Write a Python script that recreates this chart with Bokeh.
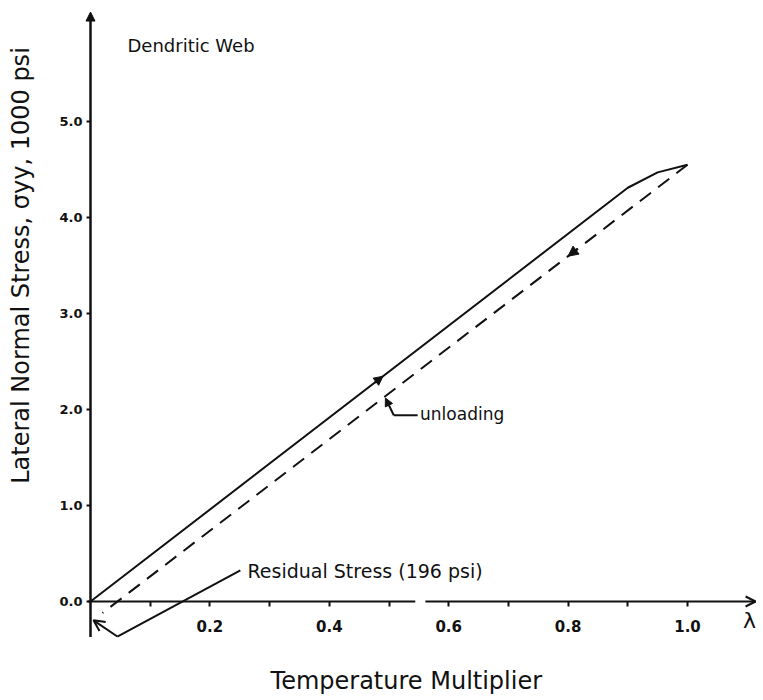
import numpy as np
from bokeh.plotting import figure
from bokeh.models import (Range1d, FixedTicker, Arrow, NormalHead, OpenHead,
                          Label, PrintfTickFormatter)
from bokeh.embed import file_html
from bokeh.resources import INLINE

# ---- data ----
load_x = [0.0, 0.90, 0.95, 1.0]
load_y = [0.0, 4.31, 4.47, 4.55]
unload_x = [1.0, 0.02]
unload_y = [4.55, -0.12]
residual_x = 0.0
residual_y = -0.196

x_ticks = [0.2, 0.4, 0.6, 0.8, 1.0]
x_minor = [0.1, 0.3, 0.5, 0.7, 0.9]
x_tick_labels = ["0.2", "0.4", "0.6", "0.8", "1.0"]
y_ticks = [0, 1, 2, 3, 4, 5]
y_tick_labels = ["0.0", "1.0", "2.0", "3.0", "4.0", "5.0"]

FONT = "DejaVu Sans"
INK = "#111111"

p = figure(width=763, height=700, output_backend="svg", toolbar_location=None,
           x_range=Range1d(-90 / 597, 673 / 597),
           y_range=Range1d((601 - 700) / 96, 601 / 96),
           min_border=0, min_border_left=0, min_border_right=0,
           min_border_top=0, min_border_bottom=0)
p.outline_line_color = None
p.xgrid.visible = False
p.ygrid.visible = False
p.background_fill_color = "white"

# axes through the origin
p.xaxis.fixed_location = 0
p.yaxis.fixed_location = 0
p.xaxis.ticker = FixedTicker(ticks=x_ticks, minor_ticks=x_minor)
p.yaxis.ticker = FixedTicker(ticks=y_ticks, minor_ticks=[])
p.xaxis.formatter = PrintfTickFormatter(format="%.1f")
p.yaxis.formatter = PrintfTickFormatter(format="%.1f")
p.xaxis.major_label_overrides = dict(zip(x_ticks, x_tick_labels))
p.yaxis.major_label_overrides = dict(zip(y_ticks, y_tick_labels))
for ax in (p.xaxis, p.yaxis):
    ax.axis_line_color = None
    ax.major_tick_in = 0
    ax.major_tick_line_color = INK
    ax.major_tick_line_width = 2
    ax.minor_tick_in = 0
    ax.minor_tick_line_color = INK
    ax.minor_tick_line_width = 2
    ax.major_label_text_font = FONT
    ax.major_label_text_font_style = "bold"
    ax.major_label_text_color = INK
p.xaxis.major_tick_out = 5
p.xaxis.minor_tick_out = 5
p.xaxis.major_label_standoff = 13
p.xaxis.major_label_text_font_size = "15px"
p.yaxis.major_tick_out = 4
p.yaxis.major_label_standoff = 4
p.yaxis.major_label_text_font_size = "13px"

# hand-drawn axis lines with arrows
p.add_layout(Arrow(end=NormalHead(size=9, fill_color=INK, line_color=INK),
                   x_start=0, y_start=-0.37, x_end=0, y_end=6.14,
                   line_width=2.5, line_color=INK))
p.line([-0.004, 0.544], [0, 0], line_width=2, color=INK)
p.add_layout(Arrow(end=OpenHead(size=10, line_width=2, line_color=INK),
                   x_start=0.561, y_start=0, x_end=1.114, y_end=0,
                   line_width=2, line_color=INK))

# loading (solid) and unloading (dashed)
p.line(load_x, load_y, line_width=2, color=INK)
p.line(unload_x, unload_y, line_width=2, color=INK, line_dash="14 9")

# direction arrows on the curves
ax1 = 0.486
ay1 = float(np.interp(ax1, load_x, load_y))
p.add_layout(Arrow(end=NormalHead(size=9, fill_color=INK, line_color=INK),
                   x_start=ax1 - 0.01, y_start=ay1 - 0.048, x_end=ax1 + 0.004, y_end=ay1 + 0.019,
                   line_width=2, line_color=INK))
ux = 0.804
uy = float(np.interp(ux, unload_x[::-1], unload_y[::-1]))
p.add_layout(Arrow(end=NormalHead(size=10, fill_color=INK, line_color=INK),
                   x_start=ux + 0.012, y_start=uy + 0.057, x_end=ux - 0.004, y_end=uy - 0.019,
                   line_width=2, line_color=INK))

# residual stress annotation
p.line([0.251, 0.045], [0.323, -0.365], line_width=2, color=INK)
p.add_layout(Arrow(end=OpenHead(size=11, line_width=2, line_color=INK),
                   x_start=0.045, y_start=-0.365, x_end=residual_x + 0.005, y_end=residual_y,
                   line_width=2, line_color=INK))
p.add_layout(Label(x=0.263, y=0.32, text="Residual Stress (196 psi)",
                   text_font=FONT, text_font_size="19px", text_color=INK,
                   text_baseline="middle", text_align="left"))

# unloading annotation
p.add_layout(Arrow(end=NormalHead(size=8, fill_color=INK, line_color=INK),
                   x_start=0.508, y_start=1.94, x_end=0.494, y_end=2.12,
                   line_width=2, line_color=INK))
p.line([0.508, 0.548], [1.94, 1.94], line_width=2, color=INK)
p.add_layout(Label(x=0.552, y=1.95, text="unloading",
                   text_font=FONT, text_font_size="17px", text_color=INK,
                   text_baseline="middle", text_align="left"))

# titles / labels
p.add_layout(Label(x=0.062, y=5.79, text="Dendritic Web",
                   text_font=FONT, text_font_size="18px", text_color=INK,
                   text_baseline="middle", text_align="left"))
p.add_layout(Label(x=1.093, y=-0.2, text="λ",
                   text_font=FONT, text_font_size="22px", text_color=INK,
                   text_baseline="middle", text_align="left"))
p.add_layout(Label(x=0.529, y=-0.83, text="Temperature Multiplier",
                   text_font=FONT, text_font_size="24px", text_color=INK,
                   text_baseline="middle", text_align="center"))
p.add_layout(Label(x=-0.117, y=3.5, text="Lateral Normal Stress, σyy, 1000 psi",
                   angle=np.pi / 2, text_font=FONT, text_font_size="24px", text_color=INK,
                   text_baseline="middle", text_align="center"))

open("out.html", "w").write(file_html(p, INLINE))
